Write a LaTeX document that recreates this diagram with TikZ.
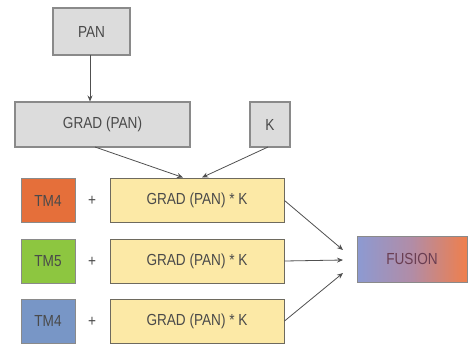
\documentclass[tikz,border=0pt]{standalone}
\usepackage{fontspec}
\setmainfont[FakeStretch=0.85]{Liberation Sans}
\usetikzlibrary{arrows.meta}
\definecolor{boxgray}{HTML}{DCDCDC}
\definecolor{edgegray}{HTML}{8A8A8A}
\definecolor{txtgray}{HTML}{4A4A4A}
\definecolor{ylw}{HTML}{FCE9A6}
\definecolor{ylwedge}{HTML}{6E6A5E}
\definecolor{tmorange}{HTML}{E56F3A}
\definecolor{tmgreen}{HTML}{8DC640}
\definecolor{tmblue}{HTML}{7896C6}
\definecolor{fleft}{HTML}{8C9AD2}
\definecolor{fmid}{HTML}{B28CA6}
\definecolor{fright}{HTML}{EF7F4C}
\definecolor{arrowgray}{HTML}{505050}
\definecolor{fustxt}{HTML}{6A3E52}
\begin{document}
\begin{tikzpicture}[x=1pt,y=-1pt,
  every node/.style={font=\fontsize{16}{18}\selectfont, text=txtgray, inner sep=0pt},
  graybox/.style={draw=edgegray, line width=1.2pt, fill=boxgray},
  ylwbox/.style={draw=ylwedge, line width=1pt, fill=ylw, minimum width=174pt, minimum height=44pt},
  tmbox/.style={draw=edgegray, line width=1pt, minimum width=54pt, minimum height=44pt},
  conn/.style={draw=arrowgray, line width=0.8pt, -{Stealth[length=6pt,width=5pt]}}
]
\useasboundingbox (0,0) rectangle (468,343);
\node[graybox, minimum width=77pt, minimum height=47pt] (pan) at (91.5,31.5) {PAN};
\node[graybox, minimum width=175pt, minimum height=45pt] (grad) at (102.5,124.5) {GRAD (PAN)};
\node[graybox, minimum width=40pt, minimum height=45pt] (k) at (270,124.5) {K};

\node[tmbox, fill=tmorange] (tm1) at (48,200.5) {TM4};
\node[tmbox, fill=tmgreen] (tm2) at (48,261) {TM5};
\node[tmbox, fill=tmblue] (tm3) at (48,321) {TM4};

\node (p1) at (92,201) {+};
\node (p2) at (92,262) {+};
\node (p3) at (92,322) {+};

\node[ylwbox] (y1) at (197,200.5) {GRAD (PAN) * K};
\node[ylwbox] (y2) at (197,261) {GRAD (PAN) * K};
\node[ylwbox] (y3) at (197,321) {GRAD (PAN) * K};

\node[draw=edgegray, line width=1pt, minimum width=110pt, minimum height=46pt,
  left color=fleft, right color=fright, middle color=fmid, text=fustxt] (fus) at (412,259) {FUSION};

\coordinate (ps) at (90,55);
\coordinate (gn) at (90,101.5);
\coordinate (gs) at (95,147);
\coordinate (ks) at (268,147);
\coordinate (t1) at (183,177.5);
\coordinate (t2) at (202,177.5);
\coordinate (f1) at (343,250);
\coordinate (f2) at (343,260);
\coordinate (f3) at (343,273);

\draw[conn] (ps) -- (gn);
\draw[conn] (gs) -- (t1);
\draw[conn] (ks) -- (t2);
\draw[conn] (y1.east) -- (f1);
\draw[conn] (y2.east) -- (f2);
\draw[conn] (y3.east) -- (f3);
\end{tikzpicture}
\end{document}
